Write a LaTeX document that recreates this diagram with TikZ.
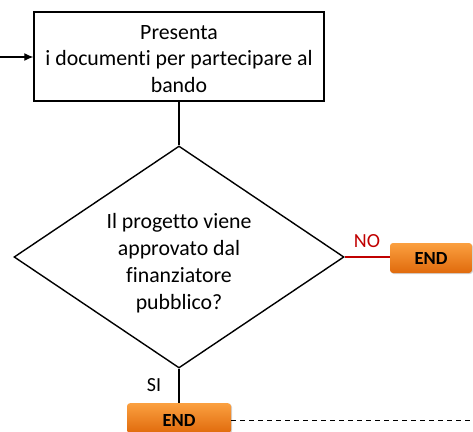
\documentclass[tikz,border=0pt]{standalone}
\usepackage{fontspec}
\setmainfont{Carlito}[Ligatures=NoCommon]
\usetikzlibrary{shapes.geometric,arrows.meta,shadows}
\definecolor{endtop}{HTML}{FBA040}
\definecolor{endbot}{HTML}{E06A0C}
\definecolor{nored}{HTML}{C00000}
\tikzset{
  procbox/.style={draw=black, line width=1.4pt, fill=white, minimum width=290pt, minimum height=89pt, inner sep=0pt},
  decis/.style={draw=black, line width=1.4pt, diamond, minimum width=330pt, minimum height=222pt, inner sep=0pt, aspect=1.486},
  txt/.style={align=center, inner sep=0pt, font=\fontsize{21.8}{27}\selectfont},
  endbox/.style={rounded corners=3pt, top color=endtop, bottom color=endbot, draw=none, font=\bfseries\fontsize{18.5}{20}\selectfont, inner sep=0pt, drop shadow={shadow xshift=1pt, shadow yshift=-1pt, opacity=0.35}},
  conn/.style={line width=1.1pt, draw=black},
  lbl/.style={font=\fontsize{20}{22}\selectfont, inner sep=0pt}
}
\begin{document}
\begin{tikzpicture}[x=1pt,y=-1pt]
\useasboundingbox (0,0) rectangle (473,431);
\coordinate (in) at (0,57);
\node[procbox] (p) at (179,56.5) {};
\node[txt, font=\fontsize{21.8}{26.5}\selectfont] (pt) at (179,59) {Presenta\\i documenti per partecipare al\\bando};
\node[decis] (d) at (179,257) {};
\node[txt] (dt) at (179,263) {Il progetto viene\\approvato dal\\finanziatore\\pubblico?};
\node[endbox, minimum width=82pt, minimum height=30pt] (e1) at (431,258) {END};
\node[endbox, minimum width=104pt, minimum height=30pt, anchor=north] (e2) at (179,403) {};
\node[font=\bfseries\fontsize{18.5}{20}\selectfont, inner sep=0pt] (e2t) at (179,420) {END};
\coordinate (dashend) at (473,420);
\draw[conn, -{Latex[length=9pt,width=8pt]}] (in) -- (p.west |- in);
\draw[conn] (p.south) -- (d.north);
\draw[line width=1.1pt, draw=nored] (d.east) -- (e1.west |- d.east);
\node[lbl, text=nored] (no) at (367,241) {NO};
\draw[conn] (d.south) -- (e2.north);
\node[lbl] (si) at (154,385) {SI};
\draw[line width=0.9pt, dashed, dash pattern=on 5pt off 4pt] (e2.east |- dashend) -- (dashend);
\end{tikzpicture}
\end{document}
